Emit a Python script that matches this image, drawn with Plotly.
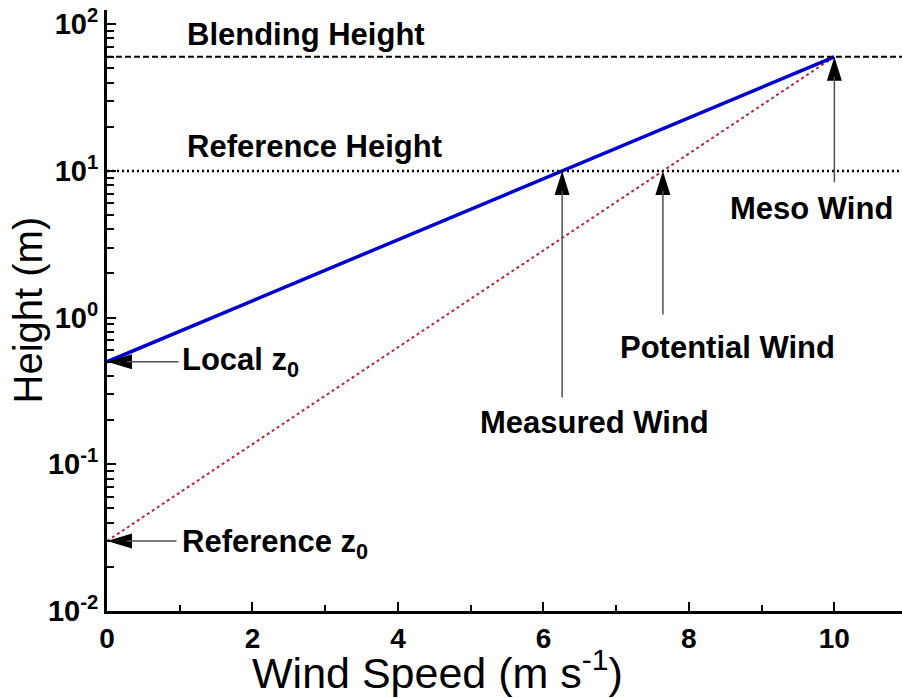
import numpy as np
import plotly.graph_objects as go

# ---- data ----
speed_local = [0, 10]          # m/s
height_local = [0.5, 60]       # m  (local z0 -> blending height)
speed_ref = [0, 10]
height_ref = [0.03, 60]        # m  (reference z0 -> blending height)
blending_height = 60
reference_height = 10
local_z0 = 0.5
reference_z0 = 0.03
meso_speed = 10

x_tickvals = [0, 2, 4, 6, 8, 10]
x_minor = [1, 3, 5, 7, 9]
y_tickvals = [0.01, 0.1, 1, 10, 100]
y_ticktext = ["10<sup>-2</sup>", "10<sup>-1</sup>", "10<sup>0</sup>", "10<sup>1</sup>", "10<sup>2</sup>"]

# crossing points of the profiles with the reference height
measured_speed = float(np.interp(np.log10(reference_height), np.log10(height_local), speed_local))
potential_speed = float(np.interp(np.log10(reference_height), np.log10(height_ref), speed_ref))

FONT = "Liberation Sans"

fig = go.Figure()
fig.add_trace(go.Scatter(x=speed_ref, y=height_ref, mode="lines",
                         line=dict(color="#b02a40", width=2, dash="dot"),
                         showlegend=False, hoverinfo="skip"))
fig.add_trace(go.Scatter(x=speed_local, y=height_local, mode="lines",
                         line=dict(color="#0000cc", width=3.5),
                         showlegend=False, hoverinfo="skip"))

shapes = []
annotations = []
# horizontal reference lines
shapes.append(dict(type="line", xref="paper", yref="y", x0=0, x1=1,
                   y0=blending_height, y1=blending_height,
                   line=dict(color="black", width=2, dash="6px,3px")))
shapes.append(dict(type="line", xref="paper", yref="y", x0=0, x1=1,
                   y0=reference_height, y1=reference_height,
                   line=dict(color="black", width=2.5, dash="2px,3px")))

ARROW_COL = "#505050"


def shaft(xt, yt, ax, ay):
    annotations.append(dict(text="", x=xt, y=np.log10(yt), xref="x", yref="y",
                            showarrow=True, arrowhead=0, arrowwidth=1.5,
                            arrowcolor=ARROW_COL, ax=ax, ay=ay, standoff=20))


def up_arrow(xt, yt, length):
    shaft(xt, yt, 0, length)
    shapes.append(dict(type="path", xref="x", yref="y", xsizemode="pixel",
                       ysizemode="pixel", xanchor=xt, yanchor=yt,
                       path="M0,0 L-7.5,-24 L7.5,-24 Z",
                       fillcolor="black", line=dict(width=0)))


def left_arrow(xt, yt, length):
    shaft(xt, yt, length, 0)
    shapes.append(dict(type="path", xref="x", yref="y", xsizemode="pixel",
                       ysizemode="pixel", xanchor=xt, yanchor=yt,
                       path="M0,0 L25,7.5 L25,-7.5 Z",
                       fillcolor="black", line=dict(width=0)))


up_arrow(meso_speed, blending_height, 127)
up_arrow(measured_speed, reference_height, 228)
up_arrow(potential_speed, reference_height, 145)
left_arrow(0, local_z0, 73)
left_arrow(0, reference_z0, 71)

afont = dict(family=FONT, size=31, color="black", weight="bold")


def label(text, x, y, xanchor, xshift, yshift):
    annotations.append(dict(text=text, x=x, y=np.log10(y), xref="x", yref="y",
                            xanchor=xanchor, yanchor="middle", showarrow=False,
                            xshift=xshift, yshift=yshift, font=afont))


label("Blending Height", 0, blending_height, "left", 78, 22)
label("Reference Height", 0, reference_height, "left", 78, 24)
label("Meso Wind", meso_speed, blending_height, "center", -23, -152)
label("Potential Wind", potential_speed, reference_height, "center", 65, -177)
label("Measured Wind", measured_speed, reference_height, "center", 32, -252)
label("Local z<sub>0</sub>", 0, local_z0, "left", 73, 0)
label("Reference z<sub>0</sub>", 0, reference_z0, "left", 73, -3)

# axis titles
annotations.append(dict(text="Wind Speed (m s<sup>-1</sup>)", xref="paper", yref="paper",
                        x=0.5, y=0, xanchor="center", yanchor="middle",
                        xshift=-67, yshift=-59, showarrow=False,
                        font=dict(family=FONT, size=43, color="black")))
annotations.append(dict(text="Height (m)", xref="paper", yref="paper",
                        x=0, y=0.5, xanchor="center", yanchor="middle", textangle=-90,
                        xshift=-80, yshift=0, showarrow=False,
                        font=dict(family=FONT, size=40, color="black")))

fig.update_layout(
    width=902, height=698,
    margin=dict(l=107, r=0, t=10, b=87, autoexpand=False),
    plot_bgcolor="white", paper_bgcolor="white",
    shapes=shapes, annotations=annotations,
    font=dict(family=FONT, color="black"),
    xaxis=dict(
        range=[0, 10.93], showgrid=False, zeroline=False, automargin=False,
        showline=True, linecolor="black", linewidth=3,
        ticks="inside", ticklen=9, tickwidth=1.5, tickcolor="black",
        tickvals=x_tickvals, ticktext=[str(v) for v in x_tickvals],
        tickfont=dict(family=FONT, size=28, weight="bold"),
        minor=dict(ticks="inside", ticklen=6, tickwidth=1.5, tickcolor="black",
                   tickvals=x_minor),
    ),
    yaxis=dict(
        type="log", range=[-2, 2.097], showgrid=False, zeroline=False, automargin=False,
        showline=True, linecolor="black", linewidth=3,
        ticks="inside", ticklen=9, tickwidth=1.5, tickcolor="black",
        tickvals=y_tickvals, ticktext=y_ticktext,
        tickfont=dict(family=FONT, size=29, weight="bold"),
        minor=dict(ticks="inside", ticklen=7, tickwidth=1.5, tickcolor="black",
                   tickvals=[m * d for d in y_tickvals[:-1] for m in range(2, 10)]),
    ),
)

fig.write_html("out.html", config={"displayModeBar": False},
               post_script="document.body.style.margin='0px';document.body.style.overflow='hidden';")
